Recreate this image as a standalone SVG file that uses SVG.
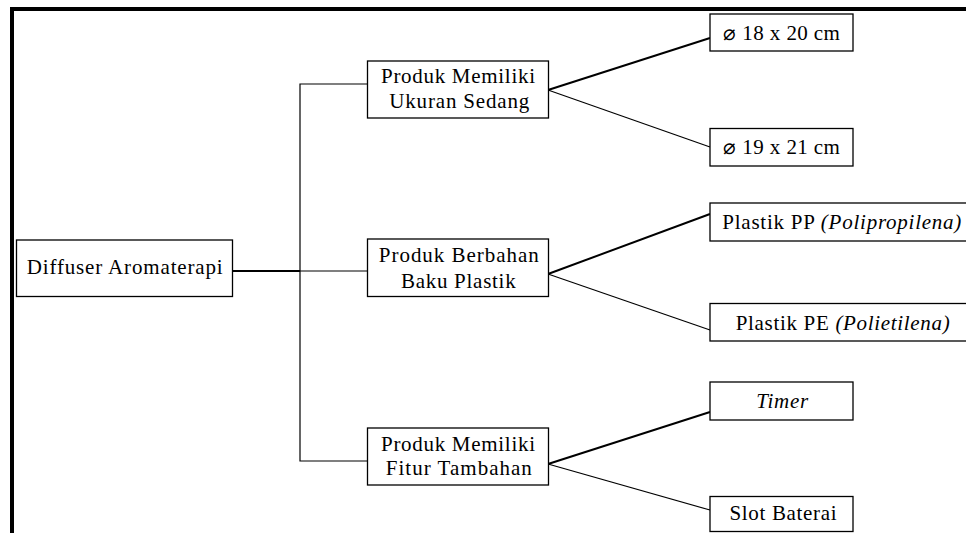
<svg xmlns="http://www.w3.org/2000/svg" width="966" height="533" viewBox="0 0 966 533">
<style>
.box{fill:#fff;stroke:#000;stroke-width:1.3}
text{font-family:'Liberation Serif','Times New Roman',serif;font-size:21px;fill:#000}
.c{text-anchor:middle}
.i{font-style:italic}
.ln{stroke:#000;fill:none}
.thin{stroke-width:1.2}
.thick{stroke-width:2}
</style>
<rect width="966" height="533" fill="#fff"/>
<path d="M12 533 V9 H966" stroke="#000" stroke-width="4" fill="none"/>
<g id="connectors">
<path class="ln thick" d="M233 271 H300"/>
<path class="ln thin" d="M367 84 H300 V461 H367 M300 271 H367"/>
<path class="ln thick" d="M548 90 L710 38"/>
<path class="ln thin" d="M548 90 L710 147"/>
<path class="ln thick" d="M548 274 L710 214"/>
<path class="ln thin" d="M548 274 L710 330"/>
<path class="ln thick" d="M548 464 L710 412"/>
<path class="ln thin" d="M548 464 L710 510"/>
</g>
<g id="root">
<rect class="box" x="16.5" y="240" width="216" height="56.5"/>
<text class="c" x="124.7" y="274" textLength="196" lengthAdjust="spacing">Diffuser Aromaterapi</text>
</g>
<g id="mid1">
<rect class="box" x="367.5" y="61" width="181" height="57"/>
<text class="c" x="458" y="83" textLength="154" lengthAdjust="spacing">Produk Memiliki</text>
<text class="c" x="459.3" y="108" textLength="140" lengthAdjust="spacing">Ukuran Sedang</text>
</g>
<g id="mid2">
<rect class="box" x="367.5" y="239" width="181" height="57.5"/>
<text class="c" x="458.8" y="262" textLength="160" lengthAdjust="spacing">Produk Berbahan</text>
<text class="c" x="458.3" y="287.5" textLength="114.7" lengthAdjust="spacing">Baku Plastik</text>
</g>
<g id="mid3">
<rect class="box" x="367.5" y="428" width="181" height="57"/>
<text class="c" x="458" y="450.5" textLength="154" lengthAdjust="spacing">Produk Memiliki</text>
<text class="c" x="458.8" y="475" textLength="146" lengthAdjust="spacing">Fitur Tambahan</text>
</g>
<g id="leaf1">
<rect class="box" x="710" y="14" width="143" height="37"/>
<text class="c" x="781.6" y="39.5" textLength="116.7" lengthAdjust="spacing">⌀ 18 x 20 cm</text>
</g>
<g id="leaf2">
<rect class="box" x="710" y="128.5" width="143" height="37.5"/>
<text class="c" x="781.6" y="154" textLength="116.7" lengthAdjust="spacing">⌀ 19 x 21 cm</text>
</g>
<g id="leaf3">
<rect class="box" x="710" y="203" width="270" height="38"/>
<text x="722.3" y="229" textLength="239" lengthAdjust="spacing">Plastik PP <tspan class="i">(Polipropilena)</tspan></text>
</g>
<g id="leaf4">
<rect class="box" x="710" y="303.5" width="270" height="37.5"/>
<text x="735.7" y="329.5" textLength="214" lengthAdjust="spacing">Plastik PE <tspan class="i">(Polietilena)</tspan></text>
</g>
<g id="leaf5">
<rect class="box" x="710" y="382" width="143" height="38"/>
<text class="c i" x="782.2" y="407.5" textLength="52" lengthAdjust="spacing">Timer</text>
</g>
<g id="leaf6">
<rect class="box" x="710" y="496.5" width="143" height="35"/>
<text class="c" x="783" y="520" textLength="107" lengthAdjust="spacing">Slot Baterai</text>
</g>
</svg>
